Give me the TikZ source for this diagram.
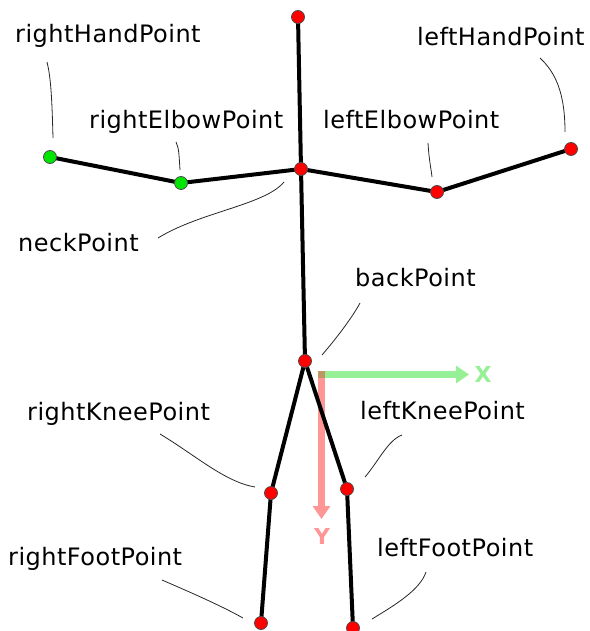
\documentclass[tikz,border=0pt]{standalone}
\usepackage{fontspec}
\setmainfont{DejaVu Sans}
\newfontfamily\lblfont[LetterSpace=2]{DejaVu Sans}
\usetikzlibrary{arrows.meta,calc}
\definecolor{jointred}{RGB}{255,0,0}
\definecolor{jointgreen}{RGB}{0,230,0}
\definecolor{axisgreen}{RGB}{150,240,150}
\definecolor{axisred}{RGB}{255,150,150}
\definecolor{axismix}{RGB}{190,150,100}
\tikzset{
  bone/.style={line width=4pt, black},
  joint/.style={circle, draw=black!70, line width=0.8pt, fill=jointred, minimum size=13pt, inner sep=0pt},
  greenjoint/.style={joint, fill=jointgreen},
  leader/.style={line width=0.8pt, black!85},
  lbl/.style={anchor=base west, inner sep=0pt, font=\lblfont\fontsize{24}{27}\selectfont},
  axislbl/.style={inner sep=0pt, font=\bfseries\fontsize{22}{25}\selectfont},
}
\begin{document}
\begin{tikzpicture}[x=1pt, y=-1pt]
\useasboundingbox (0,0) rectangle (589,631);

% skeleton joints
\coordinate (head) at (298,17);
\coordinate (neck) at (301,169);
\coordinate (relbow) at (181,183);
\coordinate (rhand) at (50,157);
\coordinate (lelbow) at (437,192);
\coordinate (lhand) at (571,149);
\coordinate (back) at (305,361);
\coordinate (rknee) at (271,493);
\coordinate (lknee) at (347,489);
\coordinate (rfoot) at (261,623);
\coordinate (lfoot) at (353,628);

% coordinate axes
\coordinate (origin) at (321.5,374.5);
\coordinate (xstart) at (318,374.5);
\coordinate (ystart) at (321.5,371);
\coordinate (xend) at (469,374.5);
\coordinate (yend) at (321.5,519);
\draw[axisgreen, line width=7pt, -{Triangle[width=17pt,length=13pt]}] (xstart) -- (xend);
\draw[axisred, line width=7pt, -{Triangle[width=17pt,length=13pt]}] (ystart) -- (yend);
\fill[axismix] ($(origin)+(-3.5,-3.5)$) rectangle ++(7,7);
\node[axislbl, text=axisgreen] (xlabel) at (483,374) {X};
\node[axislbl, text=axisred] (ylabel) at (322,536) {Y};

% bones
\draw[bone] (head) -- (neck) -- (back);
\draw[bone] (rhand) -- (relbow) -- (neck) -- (lelbow) -- (lhand);
\draw[bone] (back) -- (rknee) -- (rfoot);
\draw[bone] (back) -- (lknee) -- (lfoot);

% joint markers
\node[joint] (headPt) at (head) {};
\node[joint] (neckPt) at (neck) {};
\node[greenjoint] (relbowPt) at (relbow) {};
\node[greenjoint] (rhandPt) at (rhand) {};
\node[joint] (lelbowPt) at (lelbow) {};
\node[joint] (lhandPt) at (lhand) {};
\node[joint] (backPt) at (back) {};
\node[joint] (rkneePt) at (rknee) {};
\node[joint] (lkneePt) at (lknee) {};
\node[joint] (rfootPt) at (rfoot) {};
\node[joint] (lfootPt) at (lfoot) {};

% labels
\node[lbl] (lrhand) at (15,43) {rightHandPoint};
\node[lbl] (lrelbow) at (89,129) {rightElbowPoint};
\node[lbl] (llelbow) at (323,129) {leftElbowPoint};
\node[lbl] (llhand) at (417,46) {leftHandPoint};
\node[lbl] (lneck) at (18,251) {neckPoint};
\node[lbl] (lback) at (355,286) {backPoint};
\node[lbl] (lrknee) at (27,420) {rightKneePoint};
\node[lbl] (llknee) at (360,419) {leftKneePoint};
\node[lbl] (lrfoot) at (8,565) {rightFootPoint};
\node[lbl] (llfoot) at (377,556) {leftFootPoint};

% leader line ends
\coordinate (a1) at (47,62);   \coordinate (a2) at (53,138);
\coordinate (b1) at (176,142); \coordinate (b2) at (180,170);
\coordinate (c1) at (158,238); \coordinate (c2) at (284,182);
\coordinate (d1) at (428,143); \coordinate (d2) at (432,177);
\coordinate (e1) at (540,58);  \coordinate (e2) at (565,132);
\coordinate (f1) at (322,355); \coordinate (f2) at (360,303);
\coordinate (g1) at (365,477); \coordinate (g2) at (402,435);
\coordinate (h1) at (160,434); \coordinate (h2) at (255,487);
\coordinate (i1) at (162,580); \coordinate (i2) at (243,618);
\coordinate (j1) at (372,619); \coordinate (j2) at (426,572);

% leader lines
\draw[leader] (a1) .. controls (51,78) and (52,100) .. (a2);
\draw[leader] (b1) .. controls (179,148) and (179,155) .. (b2);
\draw[leader] (c1) .. controls (200,212) and (265,205) .. (c2);
\draw[leader] (d1) .. controls (429,160) and (431,168) .. (d2);
\draw[leader] (e1) .. controls (555,72) and (565,92) .. (e2);
\draw[leader] (f1) .. controls (335,340) and (352,318) .. (f2);
\draw[leader] (g1) .. controls (378,462) and (388,440) .. (g2);
\draw[leader] (h1) .. controls (195,455) and (225,482) .. (h2);
\draw[leader] (i1) .. controls (185,590) and (220,605) .. (i2);
\draw[leader] (j1) .. controls (395,605) and (420,590) .. (j2);
\end{tikzpicture}
\end{document}
